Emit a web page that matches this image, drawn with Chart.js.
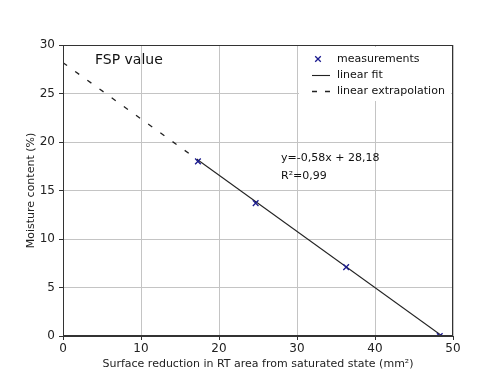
<!DOCTYPE html>
<html>
<head>
<meta charset="utf-8">
<script src="https://cdn.jsdelivr.net/npm/chart.js@4/dist/chart.umd.min.js"></script>
<style>
  html, body { margin: 0; padding: 0; background: #ffffff; }
  #wrap { width: 504px; height: 378px; position: relative; }
</style>
</head>
<body>
<div id="wrap"><canvas id="c" width="504" height="378"></canvas></div>
<script>
// ---- data ----
const measX = [17.3, 24.7, 36.3, 48.3];
const measY = [18.0, 13.7, 7.1, 0.0];
const fitX = [17.3, 48.6];
const fitY = [18.15, 0.0];
const extrapX = [0, 17.3];
const extrapY = [28.18, 18.15];
const xTicks = [0, 10, 20, 30, 40, 50];
const yTicks = [0, 5, 10, 15, 20, 25, 30];
const seriesLabels = ['measurements', 'linear fit', 'linear extrapolation'];
const xTitle = 'Surface reduction in RT area from saturated state (mm²)';
const yTitle = 'Moisture content (%)';
const annotTitle = 'FSP value';
const eqLines = ['y=-0,58x + 28,18', 'R²=0,99'];

const FONT = 'DejaVu Sans';
const pts = (xs, ys) => xs.map((x, i) => ({x: x, y: ys[i]}));

const frameAndText = {
  id: 'frameAndText',
  afterDatasetsDraw(chart) {
    const {ctx, chartArea: a} = chart;
    ctx.save();
    // full spine box
    ctx.strokeStyle = '#333333';
    ctx.lineWidth = 1;
    ctx.strokeRect(a.left + 0.5, a.top + 0.5, a.right - a.left - 1, a.bottom - a.top - 1);
    // annotations
    ctx.fillStyle = '#111111';
    ctx.textBaseline = 'middle';
    ctx.textAlign = 'left';
    ctx.font = '14px "' + FONT + '"';
    ctx.fillText(annotTitle, 95, 60);
    ctx.font = '11px "' + FONT + '"';
    ctx.fillText(eqLines[0], 281, 158);
    ctx.fillText(eqLines[1], 281, 176);
    // legend
    ctx.fillStyle = '#ffffff';
    ctx.fillRect(299, 47, 152, 54);
    const rows = [59, 75, 91];
    const ds = chart.data.datasets;
    // marker
    ctx.strokeStyle = ds[0].borderColor;
    ctx.lineWidth = 1.3;
    const mx = 318, my = rows[0], r = 2.8;
    ctx.beginPath();
    ctx.moveTo(mx - r, my - r); ctx.lineTo(mx + r, my + r);
    ctx.moveTo(mx + r, my - r); ctx.lineTo(mx - r, my + r);
    ctx.stroke();
    // fit line
    ctx.strokeStyle = ds[1].borderColor;
    ctx.lineWidth = 1.1;
    ctx.beginPath(); ctx.moveTo(312, rows[1] + 0.5); ctx.lineTo(330, rows[1] + 0.5); ctx.stroke();
    // dashed
    ctx.setLineDash([5, 8]);
    ctx.lineWidth = 1.3;
    ctx.beginPath(); ctx.moveTo(312, rows[2] + 0.5); ctx.lineTo(330, rows[2] + 0.5); ctx.stroke();
    ctx.setLineDash([]);
    ctx.fillStyle = '#111111';
    ctx.font = '11px "' + FONT + '"';
    seriesLabels.forEach((t, i) => ctx.fillText(t, 337, rows[i]));
    ctx.restore();
  }
};

new Chart(document.getElementById('c'), {
  type: 'scatter',
  data: {
    datasets: [
      {
        label: seriesLabels[0],
        data: pts(measX, measY),
        pointStyle: 'crossRot',
        pointRadius: 4,
        pointBorderWidth: 1.3,
        borderColor: '#1a1a8e',
        backgroundColor: '#1a1a8e',
        showLine: false
      },
      {
        label: seriesLabels[1],
        data: pts(fitX, fitY),
        showLine: true,
        borderColor: '#222222',
        borderWidth: 1.1,
        pointRadius: 0,
        fill: false
      },
      {
        label: seriesLabels[2],
        data: pts(extrapX, extrapY),
        showLine: true,
        borderColor: '#222222',
        borderWidth: 1.3,
        borderDash: [5, 10],
        pointRadius: 0,
        fill: false
      }
    ]
  },
  options: {
    responsive: false,
    animation: false,
    devicePixelRatio: 1,
    layout: { padding: { top: 45, right: 51, left: 0, bottom: 0 } },
    plugins: {
      legend: { display: false },
      tooltip: { enabled: false }
    },
    scales: {
      x: {
        type: 'linear',
        min: 0, max: 50,
        afterBuildTicks: s => { s.ticks = xTicks.map(v => ({value: v})); },
        afterFit: s => { s.height = 42; },
        grid: { color: '#c4c4c4', lineWidth: 1, tickColor: '#333333', tickLength: 4, drawTicks: true },
        border: { display: true, color: '#333333' },
        ticks: { color: '#222222', font: { family: FONT, size: 12 }, padding: 2, maxRotation: 0 },
        title: { display: true, text: xTitle, color: '#222222', font: { family: FONT, size: 11 }, padding: { top: 0, bottom: 7 } }
      },
      y: {
        type: 'linear',
        min: 0, max: 30,
        afterBuildTicks: s => { s.ticks = yTicks.map(v => ({value: v})); },
        afterFit: s => { s.width = 63; },
        grid: { color: '#c4c4c4', lineWidth: 1, tickColor: '#333333', tickLength: 4, drawTicks: true },
        border: { display: true, color: '#333333' },
        ticks: { color: '#222222', font: { family: FONT, size: 12 }, padding: 4 },
        title: { display: true, text: yTitle, color: '#222222', font: { family: FONT, size: 11 }, padding: { top: 25, bottom: 0 } }
      }
    }
  },
  plugins: [frameAndText]
});
</script>
</body>
</html>
